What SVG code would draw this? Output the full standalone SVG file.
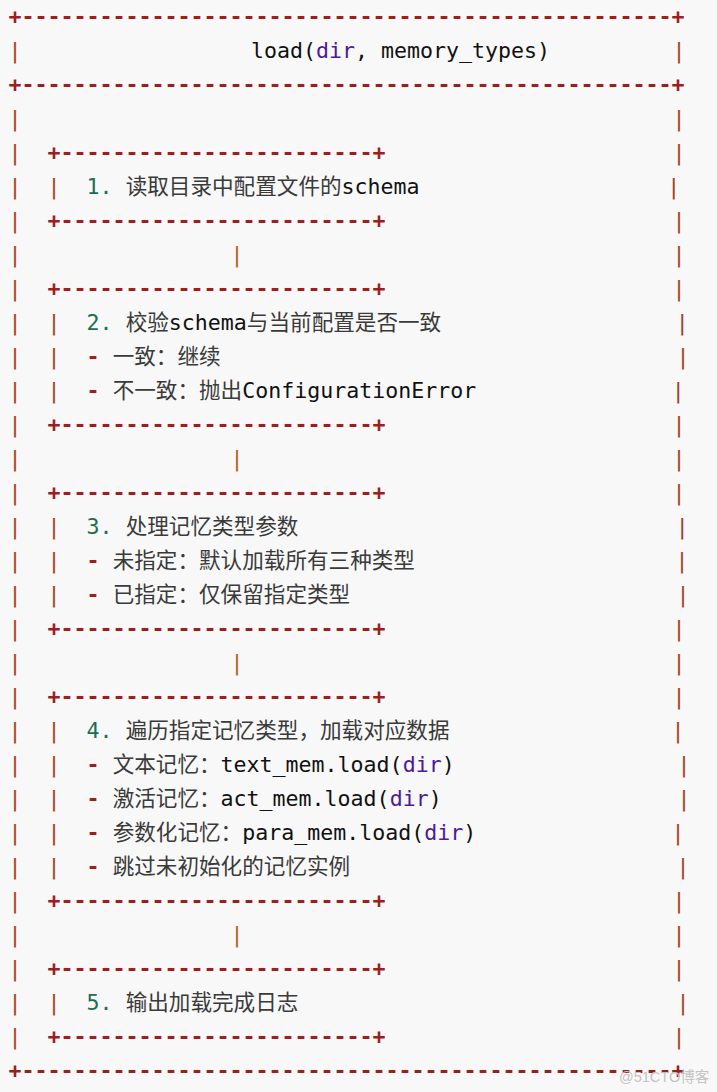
<svg xmlns="http://www.w3.org/2000/svg" width="717" height="1092" viewBox="0 0 717 1092" xml:space="preserve">
<style>
text { font-family: "DejaVu Sans Mono", "Noto Sans CJK SC", monospace; font-size: 21.6px; fill: #111111; }
.b { fill: #9c1f1f; font-weight: bold; }
.p { fill: #a3401f; text-anchor: middle; }
.cp { fill: #b3621c; text-anchor: middle; }
.n { fill: #1a6e55; }
.d { fill: #9c1f1f; font-weight: bold; }
.c { font-family: "Noto Sans CJK SC", sans-serif; fill: #3a3a3a; }
.k { fill: #4b1c9a; }
.wm { font-family: "Liberation Sans", "Noto Sans CJK SC", sans-serif; font-size: 14.5px; fill: #c4c4c4; }
</style>
<rect x="0" y="0" width="717" height="1092" fill="#f8f8f8"/>

<g id="outer-frame">
<text class="b" x="8.5" y="23.5">+--------------------------------------------------+</text>
<text class="b" x="8.5" y="91.5">+--------------------------------------------------+</text>
<text class="b" x="8.5" y="1077.5">+--------------------------------------------------+</text>
<text class="p" x="15" y="57.5">|</text>
<text class="p" x="15" y="125.5">|</text>
<text class="p" x="15" y="159.5">|</text>
<text class="p" x="15" y="193.5">|</text>
<text class="p" x="15" y="227.5">|</text>
<text class="p" x="15" y="261.5">|</text>
<text class="p" x="15" y="295.5">|</text>
<text class="p" x="15" y="329.5">|</text>
<text class="p" x="15" y="363.5">|</text>
<text class="p" x="15" y="397.5">|</text>
<text class="p" x="15" y="431.5">|</text>
<text class="p" x="15" y="465.5">|</text>
<text class="p" x="15" y="499.5">|</text>
<text class="p" x="15" y="533.5">|</text>
<text class="p" x="15" y="567.5">|</text>
<text class="p" x="15" y="601.5">|</text>
<text class="p" x="15" y="635.5">|</text>
<text class="p" x="15" y="669.5">|</text>
<text class="p" x="15" y="703.5">|</text>
<text class="p" x="15" y="737.5">|</text>
<text class="p" x="15" y="771.5">|</text>
<text class="p" x="15" y="805.5">|</text>
<text class="p" x="15" y="839.5">|</text>
<text class="p" x="15" y="873.5">|</text>
<text class="p" x="15" y="907.5">|</text>
<text class="p" x="15" y="941.5">|</text>
<text class="p" x="15" y="975.5">|</text>
<text class="p" x="15" y="1009.5">|</text>
<text class="p" x="15" y="1043.5">|</text>
<text class="p" x="679" y="57.5">|</text>
<text class="p" x="679" y="125.5">|</text>
<text class="p" x="679" y="159.5">|</text>
<text class="p" x="673.7" y="193.5">|</text>
<text class="p" x="679" y="227.5">|</text>
<text class="p" x="679" y="261.5">|</text>
<text class="p" x="679" y="295.5">|</text>
<text class="p" x="682.3" y="329.5">|</text>
<text class="p" x="683" y="363.5">|</text>
<text class="p" x="678.3" y="397.5">|</text>
<text class="p" x="679" y="431.5">|</text>
<text class="p" x="679" y="465.5">|</text>
<text class="p" x="679" y="499.5">|</text>
<text class="p" x="682.3" y="533.5">|</text>
<text class="p" x="682" y="567.5">|</text>
<text class="p" x="683" y="601.5">|</text>
<text class="p" x="679" y="635.5">|</text>
<text class="p" x="679" y="669.5">|</text>
<text class="p" x="679" y="703.5">|</text>
<text class="p" x="678" y="737.5">|</text>
<text class="p" x="684" y="771.5">|</text>
<text class="p" x="684" y="805.5">|</text>
<text class="p" x="678" y="839.5">|</text>
<text class="p" x="683" y="873.5">|</text>
<text class="p" x="679" y="907.5">|</text>
<text class="p" x="679" y="941.5">|</text>
<text class="p" x="679" y="975.5">|</text>
<text class="p" x="683" y="1009.5">|</text>
<text class="p" x="679" y="1043.5">|</text>
</g>

<g id="node-header">
<text x="251" y="57.5">load(<tspan class="k">dir</tspan>, memory_types)</text>
</g>

<g id="node-step1">
<text class="b" x="47.5" y="159.5">+------------------------+</text>
<text class="p" x="54" y="193.5">|</text>
<text x="86.6" y="193.5"><tspan class="n">1.</tspan> <tspan class="c">读取目录中配置文件的</tspan>schema</text>
<text class="b" x="47.5" y="227.5">+------------------------+</text>
</g>

<g id="node-step2">
<text class="b" x="47.5" y="295.5">+------------------------+</text>
<text class="p" x="54" y="329.5">|</text>
<text class="p" x="54" y="363.5">|</text>
<text class="p" x="54" y="397.5">|</text>
<text x="86.6" y="329.5"><tspan class="n">2.</tspan> <tspan class="c">校验</tspan>schema<tspan class="c">与当前配置是否一致</tspan></text>
<text x="86.6" y="363.5"><tspan class="d">-</tspan> <tspan class="c">一致：继续</tspan></text>
<text x="86.6" y="397.5"><tspan class="d">-</tspan> <tspan class="c">不一致：抛出</tspan>ConfigurationError</text>
<text class="b" x="47.5" y="431.5">+------------------------+</text>
</g>

<g id="node-step3">
<text class="b" x="47.5" y="499.5">+------------------------+</text>
<text class="p" x="54" y="533.5">|</text>
<text class="p" x="54" y="567.5">|</text>
<text class="p" x="54" y="601.5">|</text>
<text x="86.6" y="533.5"><tspan class="n">3.</tspan> <tspan class="c">处理记忆类型参数</tspan></text>
<text x="86.6" y="567.5"><tspan class="d">-</tspan> <tspan class="c">未指定：默认加载所有三种类型</tspan></text>
<text x="86.6" y="601.5"><tspan class="d">-</tspan> <tspan class="c">已指定：仅保留指定类型</tspan></text>
<text class="b" x="47.5" y="635.5">+------------------------+</text>
</g>

<g id="node-step4">
<text class="b" x="47.5" y="703.5">+------------------------+</text>
<text class="p" x="54" y="737.5">|</text>
<text class="p" x="54" y="771.5">|</text>
<text class="p" x="54" y="805.5">|</text>
<text class="p" x="54" y="839.5">|</text>
<text class="p" x="54" y="873.5">|</text>
<text x="86.6" y="737.5"><tspan class="n">4.</tspan> <tspan class="c">遍历指定记忆类型，加载对应数据</tspan></text>
<text x="86.6" y="771.5"><tspan class="d">-</tspan> <tspan class="c">文本记忆：</tspan>text_mem.load(<tspan class="k">dir</tspan>)</text>
<text x="86.6" y="805.5"><tspan class="d">-</tspan> <tspan class="c">激活记忆：</tspan>act_mem.load(<tspan class="k">dir</tspan>)</text>
<text x="86.6" y="839.5"><tspan class="d">-</tspan> <tspan class="c">参数化记忆：</tspan>para_mem.load(<tspan class="k">dir</tspan>)</text>
<text x="86.6" y="873.5"><tspan class="d">-</tspan> <tspan class="c">跳过未初始化的记忆实例</tspan></text>
<text class="b" x="47.5" y="907.5">+------------------------+</text>
</g>

<g id="node-step5">
<text class="b" x="47.5" y="975.5">+------------------------+</text>
<text class="p" x="54" y="1009.5">|</text>
<text x="86.6" y="1009.5"><tspan class="n">5.</tspan> <tspan class="c">输出加载完成日志</tspan></text>
<text class="b" x="47.5" y="1043.5">+------------------------+</text>
</g>

<g id="connectors">
<text class="cp" x="237" y="261.5">|</text>
<text class="cp" x="237" y="465.5">|</text>
<text class="cp" x="237" y="669.5">|</text>
<text class="cp" x="237" y="941.5">|</text>
</g>

<text class="wm" x="619" y="1082">@51CTO博客</text>
</svg>
